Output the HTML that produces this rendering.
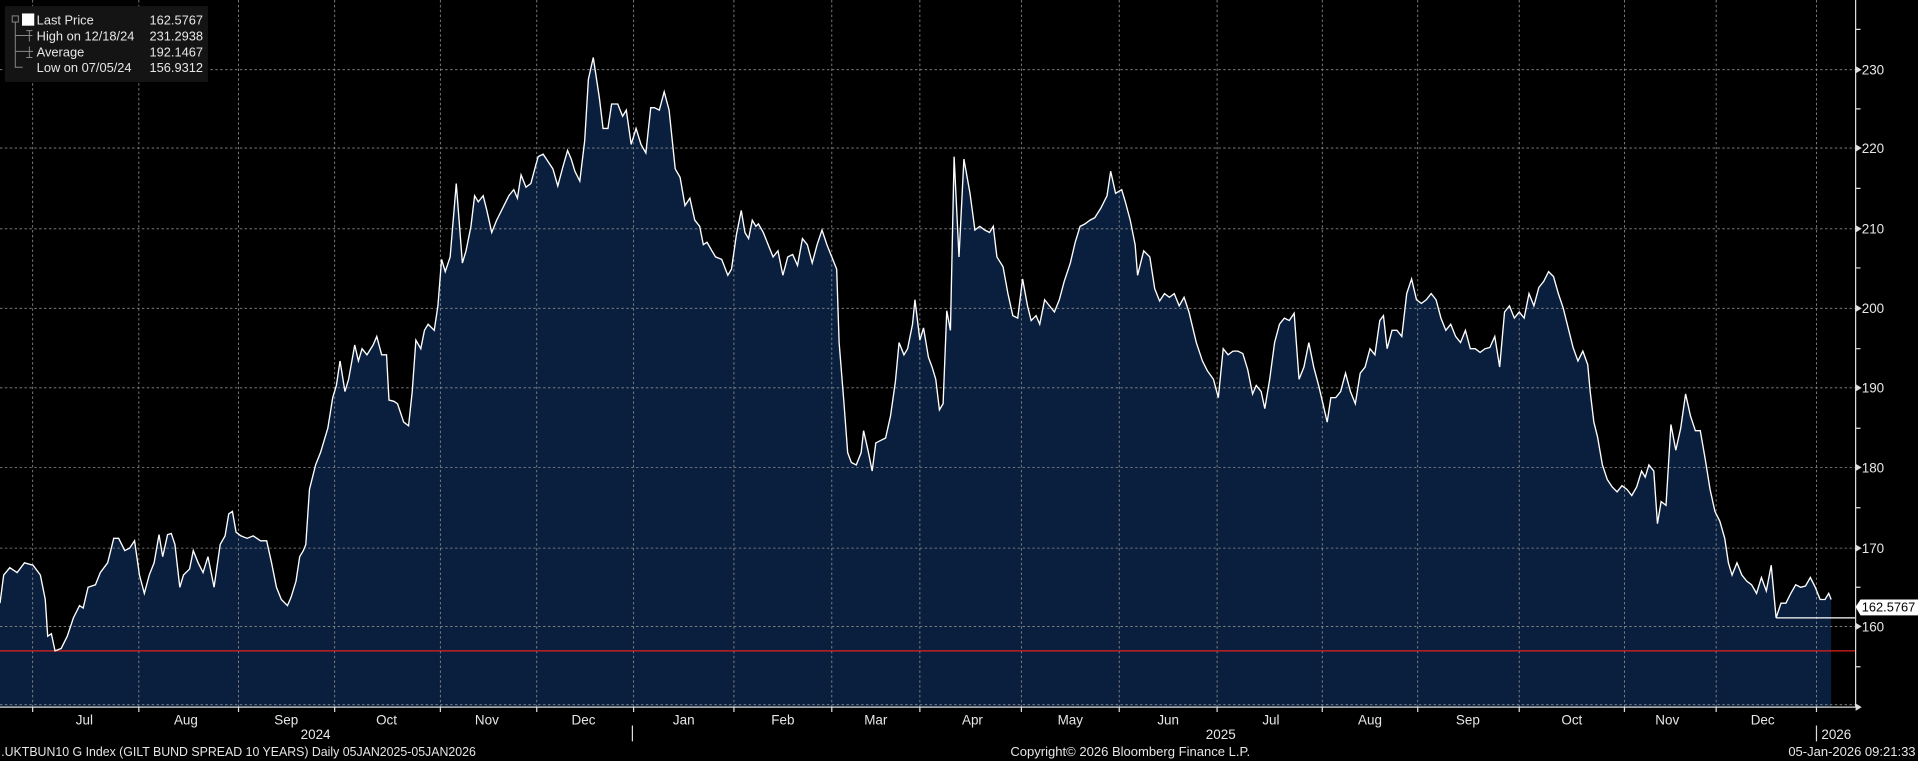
<!DOCTYPE html>
<html><head><meta charset="utf-8"><style>
html,body{margin:0;padding:0;background:#000;overflow:hidden}
svg{display:block}
text{font-family:"Liberation Sans Narrow","Liberation Sans",sans-serif;fill:#e6e6e6}
</style></head><body>
<svg width="1918" height="761" viewBox="0 0 1568 622" preserveAspectRatio="none" xmlns="http://www.w3.org/2000/svg">
<rect width="1568" height="622" fill="#000"/>
<defs>
<polyline id="d" points="0,493 3,470 8,464 14,468 20,460 27,462 33,470 37,490 39,520 42,518 45,532 50,530 55,520 60,505 65,495 68,497 72,480 78,478 82,468 88,460 93,440 97,440 102,450 106,448 110,442 114,470 118,485 122,470 126,460 130,437 133,455 137,437 140,436 143,445 147,480 150,470 155,465 158,450 162,460 166,468 170,455 175,480 180,445 184,438 187,420 190,418 193,435 197,438 202,440 207,438 213,442 218,442 222,460 226,480 230,490 235,495 238,488 242,475 245,455 248,450 250,445 253,400 258,380 262,370 265,360 268,350 272,325 275,315 278,295 282,320 285,310 290,282 293,295 296,285 300,290 305,282 308,275 312,290 316,290 318,327 322,328 325,330 330,345 334,348 337,320 340,278 344,285 347,270 350,265 355,270 358,250 361,212 364,222 368,210 373,150 378,215 381,205 385,185 388,160 391,165 395,160 398,172 402,190 406,180 412,168 416,160 420,155 423,162 426,143 430,153 434,150 438,135 440,128 444,126 448,132 452,138 456,152 460,137 464,123 467,130 470,140 474,148 478,115 481,65 485,47 490,80 493,105 497,105 500,85 505,85 509,95 512,90 516,118 520,105 524,118 528,125 532,88 535,88 539,90 543,75 547,90 552,138 556,145 560,168 564,162 568,180 572,185 575,200 578,198 582,205 585,210 590,212 595,225 598,220 602,192 606,172 609,190 612,195 615,180 618,185 620,183 624,190 628,200 632,210 636,205 640,225 644,210 648,208 652,217 656,195 660,200 664,215 668,200 672,188 676,200 680,210 684,220 686,280 690,330 693,370 696,378 700,380 704,370 706,352 710,370 713,385 716,362 720,360 724,358 728,340 732,312 735,280 739,290 742,285 746,265 748,245 752,278 755,268 759,292 762,300 765,310 768,335 771,330 774,254 777,270 780,128 784,210 788,130 793,158 797,188 801,185 805,188 809,190 812,185 815,210 820,218 824,240 828,258 832,260 836,228 840,250 843,262 847,258 850,265 854,245 858,250 862,255 866,245 870,230 875,215 879,198 883,185 887,183 891,180 895,178 900,170 905,160 908,140 912,158 917,155 920,165 924,180 928,200 930,225 935,205 940,210 944,236 948,246 952,240 956,243 960,240 964,250 968,243 972,255 978,280 983,295 987,303 992,310 996,325 1000,285 1004,290 1008,287 1012,287 1016,289 1020,302 1024,322 1027,315 1031,320 1034,334 1038,310 1042,280 1046,265 1050,260 1054,262 1058,256 1062,310 1066,300 1070,280 1074,300 1078,315 1082,332 1085,345 1088,325 1092,325 1096,320 1100,305 1104,320 1108,330 1112,305 1116,300 1120,285 1124,290 1128,262 1131,258 1134,285 1138,270 1142,270 1146,275 1150,240 1154,228 1158,245 1162,248 1166,245 1170,240 1174,245 1178,260 1182,270 1186,265 1190,275 1194,280 1198,270 1202,285 1206,285 1210,288 1214,285 1218,284 1222,275 1226,300 1230,255 1234,250 1238,260 1242,255 1246,260 1250,240 1254,250 1258,235 1262,230 1266,222 1270,226 1274,240 1278,252 1282,268 1286,284 1290,295 1294,287 1298,298 1300,320 1303,345 1306,357 1310,380 1314,392 1318,398 1322,402 1326,397 1330,400 1334,405 1338,398 1342,385 1345,390 1348,380 1352,385 1355,428 1358,410 1362,413 1366,347 1370,368 1374,350 1378,322 1382,340 1386,352 1390,352 1394,375 1398,400 1402,418 1406,426 1410,440 1413,460 1416,470 1420,460 1424,470 1428,475 1432,478 1436,485 1440,472 1444,483 1448,462 1452,505 1456,493 1460,493 1464,485 1468,478 1472,480 1476,479 1480,472 1484,480 1488,490 1492,490 1495,485 1497,490"/>
</defs>
<polygon fill="#0a1f3d" points="0,578 0,493 3,470 8,464 14,468 20,460 27,462 33,470 37,490 39,520 42,518 45,532 50,530 55,520 60,505 65,495 68,497 72,480 78,478 82,468 88,460 93,440 97,440 102,450 106,448 110,442 114,470 118,485 122,470 126,460 130,437 133,455 137,437 140,436 143,445 147,480 150,470 155,465 158,450 162,460 166,468 170,455 175,480 180,445 184,438 187,420 190,418 193,435 197,438 202,440 207,438 213,442 218,442 222,460 226,480 230,490 235,495 238,488 242,475 245,455 248,450 250,445 253,400 258,380 262,370 265,360 268,350 272,325 275,315 278,295 282,320 285,310 290,282 293,295 296,285 300,290 305,282 308,275 312,290 316,290 318,327 322,328 325,330 330,345 334,348 337,320 340,278 344,285 347,270 350,265 355,270 358,250 361,212 364,222 368,210 373,150 378,215 381,205 385,185 388,160 391,165 395,160 398,172 402,190 406,180 412,168 416,160 420,155 423,162 426,143 430,153 434,150 438,135 440,128 444,126 448,132 452,138 456,152 460,137 464,123 467,130 470,140 474,148 478,115 481,65 485,47 490,80 493,105 497,105 500,85 505,85 509,95 512,90 516,118 520,105 524,118 528,125 532,88 535,88 539,90 543,75 547,90 552,138 556,145 560,168 564,162 568,180 572,185 575,200 578,198 582,205 585,210 590,212 595,225 598,220 602,192 606,172 609,190 612,195 615,180 618,185 620,183 624,190 628,200 632,210 636,205 640,225 644,210 648,208 652,217 656,195 660,200 664,215 668,200 672,188 676,200 680,210 684,220 686,280 690,330 693,370 696,378 700,380 704,370 706,352 710,370 713,385 716,362 720,360 724,358 728,340 732,312 735,280 739,290 742,285 746,265 748,245 752,278 755,268 759,292 762,300 765,310 768,335 771,330 774,254 777,270 780,128 784,210 788,130 793,158 797,188 801,185 805,188 809,190 812,185 815,210 820,218 824,240 828,258 832,260 836,228 840,250 843,262 847,258 850,265 854,245 858,250 862,255 866,245 870,230 875,215 879,198 883,185 887,183 891,180 895,178 900,170 905,160 908,140 912,158 917,155 920,165 924,180 928,200 930,225 935,205 940,210 944,236 948,246 952,240 956,243 960,240 964,250 968,243 972,255 978,280 983,295 987,303 992,310 996,325 1000,285 1004,290 1008,287 1012,287 1016,289 1020,302 1024,322 1027,315 1031,320 1034,334 1038,310 1042,280 1046,265 1050,260 1054,262 1058,256 1062,310 1066,300 1070,280 1074,300 1078,315 1082,332 1085,345 1088,325 1092,325 1096,320 1100,305 1104,320 1108,330 1112,305 1116,300 1120,285 1124,290 1128,262 1131,258 1134,285 1138,270 1142,270 1146,275 1150,240 1154,228 1158,245 1162,248 1166,245 1170,240 1174,245 1178,260 1182,270 1186,265 1190,275 1194,280 1198,270 1202,285 1206,285 1210,288 1214,285 1218,284 1222,275 1226,300 1230,255 1234,250 1238,260 1242,255 1246,260 1250,240 1254,250 1258,235 1262,230 1266,222 1270,226 1274,240 1278,252 1282,268 1286,284 1290,295 1294,287 1298,298 1300,320 1303,345 1306,357 1310,380 1314,392 1318,398 1322,402 1326,397 1330,400 1334,405 1338,398 1342,385 1345,390 1348,380 1352,385 1355,428 1358,410 1362,413 1366,347 1370,368 1374,350 1378,322 1382,340 1386,352 1390,352 1394,375 1398,400 1402,418 1406,426 1410,440 1413,460 1416,470 1420,460 1424,470 1428,475 1432,478 1436,485 1440,472 1444,483 1448,462 1452,505 1456,493 1460,493 1464,485 1468,478 1472,480 1476,479 1480,472 1484,480 1488,490 1492,490 1495,485 1497,490 1497,578"/>
<g stroke="#8a8a8a" stroke-width="0.7" stroke-dasharray="2,2" fill="none">
<path d="M0,57H1517M0,121H1517M0,187H1517M0,252H1517M0,317H1517M0,382H1517M0,448H1517M0,512H1517M0,576H1517"/>
<path d="M26.7,0V578M113.5,0V578M195,0V578M273.6,0V578M360,0V578M438.8,0V578M518,0V578M600,0V578M680,0V578M752,0V578M835,0V578M915,0V578M995,0V578M1081,0V578M1159,0V578M1242,0V578M1328,0V578M1403,0V578M1485,0V578"/>
</g>
<line x1="0" y1="532" x2="1517" y2="532" stroke="#e0201c" stroke-width="1"/>
<use href="#d" fill="none" stroke="#fff" stroke-width="1.1"/>
<line x1="1452" y1="505" x2="1517" y2="505" stroke="#fff" stroke-width="1"/>
<g stroke="#ddd" stroke-width="1">
<line x1="1517" y1="0" x2="1517" y2="578"/>
<line x1="0" y1="578" x2="1517" y2="578"/>
<path d="M1517,24h4M1517,89h4M1517,154h4M1517,219h4M1517,285h4M1517,350h4M1517,415h4M1517,480h4M1517,545h4"/>
<path d="M26.7,578v4M113.5,578v4M195,578v4M273.6,578v4M360,578v4M438.8,578v4M518,578v4M600,578v4M680,578v4M752,578v4M835,578v4M915,578v4M995,578v4M1081,578v4M1159,578v4M1242,578v4M1328,578v4M1403,578v4M1485,578v4"/>
<path d="M517,593v13M1485,593v13"/>
</g>
<g fill="#ddd">
<path d="M1517,54l5,3l-5,3zM1517,118l5,3l-5,3zM1517,184l5,3l-5,3zM1517,249l5,3l-5,3zM1517,314l5,3l-5,3zM1517,379l5,3l-5,3zM1517,445l5,3l-5,3zM1517,509l5,3l-5,3zM1517,575l5,3l-5,3z"/>
</g>
<g font-size="11">
<text x="1522" y="61">230</text><text x="1522" y="125">220</text><text x="1522" y="191">210</text><text x="1522" y="256">200</text><text x="1522" y="321">190</text><text x="1522" y="386">180</text><text x="1522" y="452">170</text><text x="1522" y="516">160</text>
</g>
<path d="M1517,496l4,-6h47v13h-47z" fill="#fff"/>
<text x="1522" y="500" font-size="10.5" style="fill:#000">162.5767</text>
<g font-size="11" text-anchor="middle">
<text x="69" y="592">Jul</text><text x="152" y="592">Aug</text><text x="234" y="592">Sep</text><text x="316" y="592">Oct</text><text x="398" y="592">Nov</text><text x="477" y="592">Dec</text><text x="559" y="592">Jan</text><text x="640" y="592">Feb</text><text x="716" y="592">Mar</text><text x="795" y="592">Apr</text><text x="875" y="592">May</text><text x="955" y="592">Jun</text><text x="1039" y="592">Jul</text><text x="1120" y="592">Aug</text><text x="1200" y="592">Sep</text><text x="1285" y="592">Oct</text><text x="1363" y="592">Nov</text><text x="1441" y="592">Dec</text>
<text x="258" y="604">2024</text><text x="998" y="604">2025</text>
</g>
<text x="1489" y="604" font-size="11">2026</text>
<g font-size="10.5">
<text x="1" y="618" textLength="388" lengthAdjust="spacingAndGlyphs">.UKTBUN10 G Index (GILT BUND SPREAD 10 YEARS) Daily 05JAN2025-05JAN2026</text>
<text x="826" y="618" textLength="196" lengthAdjust="spacingAndGlyphs">Copyright© 2026 Bloomberg Finance L.P.</text>
<text x="1462" y="618" textLength="104" lengthAdjust="spacingAndGlyphs">05-Jan-2026 09:21:33</text>
</g>
<rect x="4" y="5" width="166" height="62" fill="#141414"/>
<g stroke="#888" stroke-width="0.8" fill="none">
<rect x="10" y="13" width="5" height="5"/>
<path d="M12.5,18V55h6M12.5,29h14M12.5,42h14M21.5,25h5M24,25v9M21.5,47h5M24,47v-9M21,42h6"/>
</g>
<rect x="18" y="11" width="10" height="10" fill="#fff"/>
<g font-size="10.5">
<text x="30" y="20">Last Price</text><text x="30" y="33">High on 12/18/24</text><text x="30" y="46">Average</text><text x="30" y="59">Low on 07/05/24</text>
<text x="166" y="20" text-anchor="end">162.5767</text><text x="166" y="33" text-anchor="end">231.2938</text><text x="166" y="46" text-anchor="end">192.1467</text><text x="166" y="59" text-anchor="end">156.9312</text>
</g>
</svg>
</body></html>
